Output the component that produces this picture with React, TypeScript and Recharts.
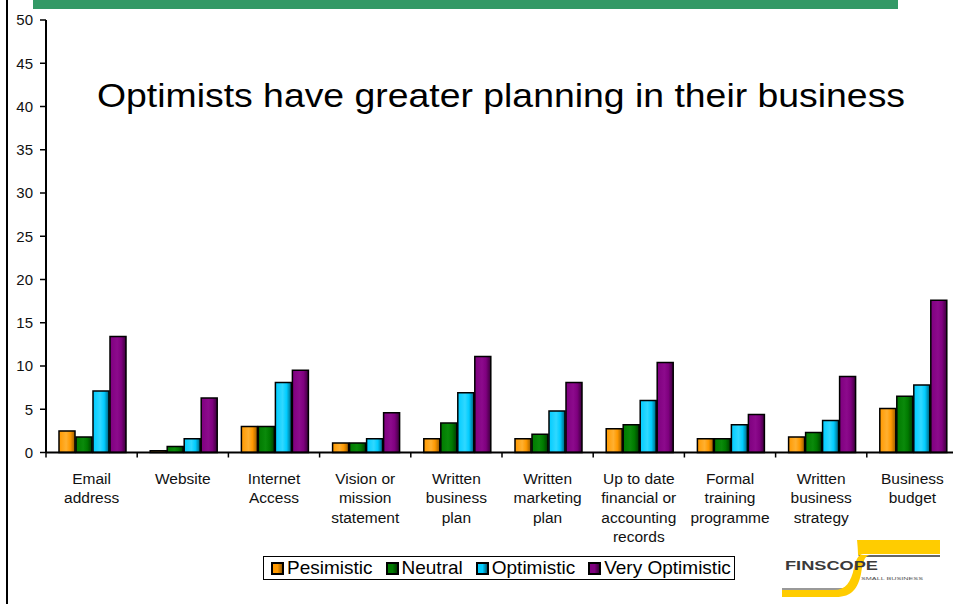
import { BarChart, Bar, XAxis, YAxis } from "recharts";

const categories = [
  "Email\naddress",
  "Website",
  "Internet\nAccess",
  "Vision or\nmission\nstatement",
  "Written\nbusiness\nplan",
  "Written\nmarketing\nplan",
  "Up to date\nfinancial or\naccounting\nrecords",
  "Formal\ntraining\nprogramme",
  "Written\nbusiness\nstrategy",
  "Business\nbudget",
];
const pesimistic = [2.5, 0.2, 3.0, 1.1, 1.6, 1.6, 2.75, 1.6, 1.8, 5.1];
const neutral = [1.8, 0.7, 3.0, 1.1, 3.4, 2.1, 3.2, 1.6, 2.3, 6.5];
const optimistic = [7.1, 1.6, 8.1, 1.6, 6.9, 4.8, 6.0, 3.2, 3.7, 7.8];
const veryOptimistic = [13.4, 6.3, 9.5, 4.6, 11.1, 8.1, 10.4, 4.4, 8.8, 17.6];
const yTicks = [0, 5, 10, 15, 20, 25, 30, 35, 40, 45, 50];

const series = [
  { key: "pesimistic", name: "Pesimistic", color: "#FF9900", dark: "#9A5C00", light: "#FFB030" },
  { key: "neutral", name: "Neutral", color: "#007A00", dark: "#003C00", light: "#0A8A0A" },
  { key: "optimistic", name: "Optimistic", color: "#00CCFF", dark: "#00607A", light: "#30D8FF" },
  { key: "veryOptimistic", name: "Very Optimistic", color: "#7F007F", dark: "#3A003A", light: "#8C0A8C" },
];

const data = categories.map((c, i) => ({
  category: c,
  pesimistic: pesimistic[i],
  neutral: neutral[i],
  optimistic: optimistic[i],
  veryOptimistic: veryOptimistic[i],
}));

const FONT = "'Liberation Sans', Arial, sans-serif";
const Y_W = 46;
const PLOT_W = 912;
const BAND = PLOT_W / categories.length;

const CategoryTick = (props: any) => {
  const { x, y, payload, index } = props;
  const lines = String(payload.value).split("\n");
  const half = BAND / 2;
  return (
    <g>
      <line x1={x - half} x2={x - half} y1={y} y2={y + 5} stroke="#000" strokeWidth={1.5} />
      {index === categories.length - 1 && (
        <line x1={x + half} x2={x + half} y1={y} y2={y + 5} stroke="#000" strokeWidth={1.5} />
      )}
      <text x={x} y={y + 31} textAnchor="middle" fontSize={15.5} fill="#111" fontFamily={FONT}>
        {lines.map((l, i) => (
          <tspan key={i} x={x} dy={i === 0 ? 0 : 19.6}>
            {l}
          </tspan>
        ))}
      </text>
    </g>
  );
};

// FinScope logo, bottom right
const Logo = () => (
  <svg width={165} height={62} style={{ position: "absolute", left: 778, top: 538 }}>
    <path d="M4 52 H68 L70 50 H4 Z" fill="#999" />
    <path d="M80 17 H162 V19 H82 Z" fill="#666" />
    <path
      d="M79 2 H162 V16 H86 C80 16 78 22 76 30 C73 44 68 52 56 52 H4 V59 H58 C74 59 80 50 83 36 C85 24 86 18 92 17 L80 17 C80 10 79 2 79 2 Z"
      fill="#FFCC00"
    />
    <text x={7} y={32} fontFamily={FONT} fontWeight="bold" fontSize={13} fill="#3a3a3a" textLength={93} lengthAdjust="spacingAndGlyphs">
      FINSCOPE
    </text>
    <text x={83} y={42} fontFamily={FONT} fontSize={4} fill="#555" textLength={62} lengthAdjust="spacingAndGlyphs">
      SMALL BUSINESS
    </text>
  </svg>
);

export default function App() {
  return (
    <div style={{ position: "absolute", left: 0, top: 0, width: 953, height: 604, overflow: "hidden", background: "#fff", fontFamily: FONT }}>
      <div style={{ position: "absolute", left: 33, top: 0, width: 865, height: 9, background: "#339966" }} />
      <div style={{ position: "absolute", left: 6, top: 0, width: 2, height: 604, background: "#000" }} />
      <BarChart
        width={Y_W + PLOT_W + 1}
        height={604}
        data={data}
        margin={{ top: 20, right: 1, bottom: 51.5, left: 0 }}
        barCategoryGap={13}
        barGap={1}
      >
        <defs>
          {series.map((s) => (
            <linearGradient key={s.key} id={`g-${s.key}`} x1="0" y1="0" x2="1" y2="0">
              <stop offset="0%" stopColor={s.color} />
              <stop offset="45%" stopColor={s.light} />
              <stop offset="70%" stopColor={s.color} />
              <stop offset="100%" stopColor={s.dark} />
            </linearGradient>
          ))}
        </defs>
        <YAxis
          width={Y_W}
          domain={[0, 50]}
          ticks={yTicks}
          interval={0}
          tickSize={6}
          tickMargin={7}
          axisLine={{ stroke: "#000", strokeWidth: 2 }}
          tickLine={{ stroke: "#000", strokeWidth: 1.5 }}
          tick={{ fill: "#111", fontSize: 15, fontFamily: FONT }}
        />
        <XAxis
          dataKey="category"
          height={100}
          interval={0}
          tickLine={false}
          tickSize={0}
          tickMargin={0}
          axisLine={{ stroke: "#000", strokeWidth: 2 }}
          tick={<CategoryTick />}
        />
        {series.map((s) => (
          <Bar
            key={s.key}
            dataKey={s.key}
            name={s.name}
            fill={`url(#g-${s.key})`}
            stroke="#000"
            strokeWidth={1.5}
            isAnimationActive={false}
          />
        ))}
      </BarChart>
      <svg width={953} height={130} style={{ position: "absolute", left: 0, top: 0 }}>
        <text x={97} y={107} fontSize={33.5} fill="#000" fontFamily={FONT} textLength={808} lengthAdjust="spacingAndGlyphs">
          Optimists have greater planning in their business
        </text>
      </svg>
      <div
        style={{
          position: "absolute",
          left: 263,
          top: 556,
          width: 463,
          height: 22,
          border: "1.5px solid #000",
          display: "flex",
          alignItems: "center",
          paddingLeft: 7,
          boxSizing: "content-box",
          fontSize: 19,
          color: "#000",
          whiteSpace: "nowrap",
        }}
      >
        {series.map((s, i) => (
          <span key={s.key} style={{ display: "flex", alignItems: "center", marginRight: i < series.length - 1 ? 13 : 0 }}>
            <span
              style={{
                display: "inline-block",
                width: 9,
                height: 9,
                border: "2px solid #000",
                background: `linear-gradient(to right, ${s.color} 50%, ${s.dark})`,
                marginRight: 3,
              }}
            />
            {s.name}
          </span>
        ))}
      </div>
      <Logo />
    </div>
  );
}
